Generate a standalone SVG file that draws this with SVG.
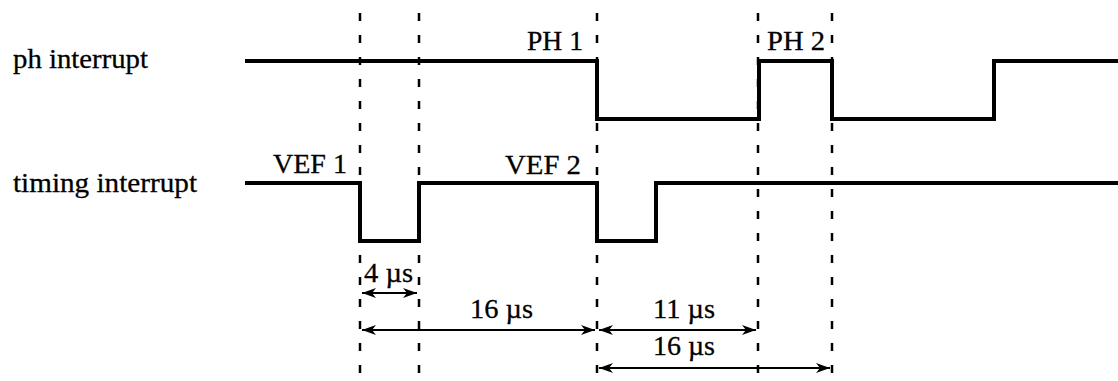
<svg xmlns="http://www.w3.org/2000/svg" width="1118" height="381" viewBox="0 0 1118 381">
<style>
.sig{fill:none;stroke:#000;stroke-width:4;stroke-linejoin:miter;stroke-linecap:butt}
.dash{stroke:#000;stroke-width:2.5;stroke-dasharray:8 14}
.dim{stroke:#000;stroke-width:2;fill:none}
.t{font-family:'Liberation Serif','Times New Roman',serif;font-size:28px;fill:#000;stroke:#000;stroke-width:0.3}
</style>
<defs>
<marker id="ah" markerUnits="userSpaceOnUse" markerWidth="14" markerHeight="10" refX="14" refY="5" orient="auto-start-reverse">
<path d="M0,0 L14,5 L0,10 L4,5 z" fill="#000"/>
</marker>
</defs>
<rect width="1118" height="381" fill="#fff"/>
<g id="labels">
<text class="t" x="13" y="68" textLength="135" lengthAdjust="spacingAndGlyphs">ph interrupt</text>
<text class="t" x="13" y="192" textLength="184" lengthAdjust="spacingAndGlyphs">timing interrupt</text>
</g>
<g id="guides">
<line class="dash" x1="360" y1="13" x2="360" y2="378"/>
<line class="dash" x1="419" y1="13" x2="419" y2="378"/>
<line class="dash" x1="597" y1="13" x2="597" y2="378"/>
<line class="dash" x1="758" y1="13" x2="758" y2="378"/>
<line class="dash" x1="832" y1="13" x2="832" y2="378"/>
</g>
<g id="ph-signal">
<path class="sig" d="M245,61 H597 V119 H759 V61 H832 V119 H994 V61 H1118"/>
<text class="t" x="527" y="50" textLength="56" lengthAdjust="spacingAndGlyphs">PH 1</text>
<text class="t" x="767" y="50" textLength="58" lengthAdjust="spacingAndGlyphs">PH 2</text>
</g>
<g id="timing-signal">
<path class="sig" d="M245,183 H360 V241 H419 V183 H597 V241 H656 V183 H1118"/>
<text class="t" x="273" y="173" textLength="74" lengthAdjust="spacingAndGlyphs">VEF 1</text>
<text class="t" x="505" y="174" textLength="76" lengthAdjust="spacingAndGlyphs">VEF 2</text>
</g>
<g id="connectors">
<line class="dim" x1="362" y1="293" x2="417" y2="293" marker-start="url(#ah)" marker-end="url(#ah)"/>
<line class="dim" x1="362" y1="330" x2="595" y2="330" marker-start="url(#ah)" marker-end="url(#ah)"/>
<line class="dim" x1="599" y1="330" x2="756" y2="330" marker-start="url(#ah)" marker-end="url(#ah)"/>
<line class="dim" x1="599" y1="368" x2="830" y2="368" marker-start="url(#ah)" marker-end="url(#ah)"/>
</g>
<g id="dim-labels">
<text class="t" x="364" y="282" textLength="49" lengthAdjust="spacingAndGlyphs">4 µs</text>
<text class="t" x="470" y="318" textLength="63" lengthAdjust="spacingAndGlyphs">16 µs</text>
<text class="t" x="653" y="318" textLength="62" lengthAdjust="spacingAndGlyphs">11 µs</text>
<text class="t" x="653" y="355" textLength="62" lengthAdjust="spacingAndGlyphs">16 µs</text>
</g>
</svg>
